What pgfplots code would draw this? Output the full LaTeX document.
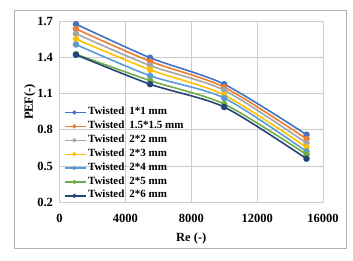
\documentclass[border=0pt]{standalone}
\usepackage{pgfplots}
\pgfplotsset{compat=1.18}
\usepackage{fontspec}
\setmainfont{Liberation Serif}
\definecolor{c1}{HTML}{4472C4}
\definecolor{c2}{HTML}{ED7D31}
\definecolor{c3}{HTML}{A5A5A5}
\definecolor{c4}{HTML}{FFC000}
\definecolor{c5}{HTML}{5B9BD5}
\definecolor{c6}{HTML}{70AD47}
\definecolor{c7}{HTML}{264478}
\begin{document}
\begin{tikzpicture}[x=1pt,y=1pt]
\path[use as bounding box] (0,0) rectangle (353,260);
\draw[gray!60, line width=0.8pt] (14,12) rectangle (346,250);
\begin{axis}[
  at={(59.5pt,58pt)}, anchor=south west,
  scale only axis, width=263.5pt, height=180.3pt,
  xmin=0, xmax=16000, ymin=0.2, ymax=1.7,
  xtick={0,4000,8000,12000,16000},
  ytick={0.2,0.5,0.8,1.1,1.4,1.7},
  grid=major, grid style={gray!40, line width=0.8pt},
  axis line style={gray!40, line width=0.8pt},
  major tick length=0pt,
  /pgf/number format/assume math mode=true,
  /pgf/number format/1000 sep={},
  yticklabel style={/pgf/number format/fixed, /pgf/number format/fixed zerofill, /pgf/number format/precision=1},
  scaled ticks=false,
  tick label style={font=\fontsize{12.5}{13}\selectfont\bfseries},
  xticklabel style={yshift=-9pt},
  yticklabel style={xshift=-3pt},
  xlabel={Re (-)}, ylabel={PEF(-)},
  label style={font=\fontsize{12.5}{13}\selectfont\bfseries},
  xlabel style={at={(axis description cs:0.5,0)}, anchor=center, yshift=-36pt},
  ylabel style={at={(axis description cs:-0.112,0.555)}, anchor=center},
  legend cell align=left,
  legend style={at={(0,0)}, anchor=south west, draw=none, fill=none, xshift=5pt, yshift=-1pt,
    font=\fontsize{11}{11}\selectfont\bfseries, row sep=0pt, inner xsep=0pt, inner ysep=0pt,
    nodes={inner ysep=0pt, inner xsep=1pt, text height=9pt, text depth=4.9pt}},
  legend image code/.code={\draw[#1, mark=none, line width=1.3pt] (0pt,0pt) -- (21pt,0pt); \draw[#1, line width=0.5pt, mark=*, mark size=1.9pt] plot coordinates {(9pt,0pt)};},
  every axis plot/.append style={line width=1.6pt, mark=*, mark size=2.4pt, smooth, tension=0.45},
]
\addplot[c1, mark options={fill=c1}] coordinates {(1000,1.68) (5500,1.40) (10000,1.18) (15000,0.76)};
\addlegendentry{Twisted\hspace{5pt}1*1 mm}
\addplot[c2, mark options={fill=c2}] coordinates {(1000,1.64) (5500,1.37) (10000,1.155) (15000,0.725)};
\addlegendentry{Twisted\hspace{5pt}1.5*1.5 mm}
\addplot[c3, mark options={fill=c3}] coordinates {(1000,1.60) (5500,1.335) (10000,1.13) (15000,0.69)};
\addlegendentry{Twisted\hspace{5pt}2*2 mm}
\addplot[c4, mark options={fill=c4}] coordinates {(1000,1.555) (5500,1.30) (10000,1.09) (15000,0.655)};
\addlegendentry{Twisted\hspace{5pt}2*3 mm}
\addplot[c5, mark options={fill=c5}] coordinates {(1000,1.51) (5500,1.25) (10000,1.065) (15000,0.62)};
\addlegendentry{Twisted\hspace{5pt}2*4 mm}
\addplot[c6, mark options={fill=c6}] coordinates {(1000,1.43) (5500,1.21) (10000,1.015) (15000,0.595)};
\addlegendentry{Twisted\hspace{5pt}2*5 mm}
\addplot[c7, mark options={fill=c7}] coordinates {(1000,1.425) (5500,1.18) (10000,0.99) (15000,0.56)};
\addlegendentry{Twisted\hspace{5pt}2*6 mm}
\end{axis}
\end{tikzpicture}
\end{document}
